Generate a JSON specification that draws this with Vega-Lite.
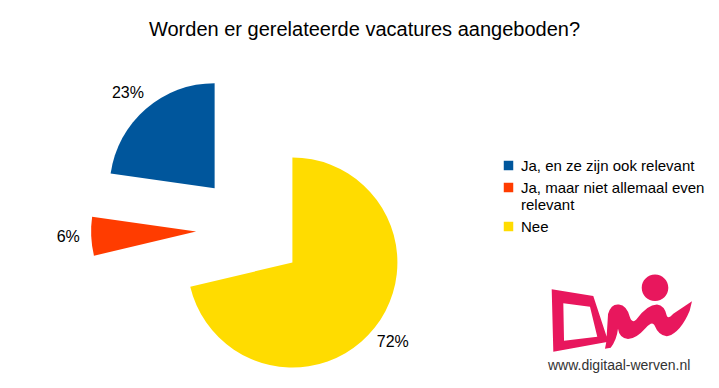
{
  "$schema": "https://vega.github.io/schema/vega-lite/v6.json",
  "autosize": "none",
  "width": 719,
  "height": 338,
  "padding": {"top": 50, "left": 0, "right": 0, "bottom": 0},
  "background": "white",
  "title": {
    "text": "Worden er gerelateerde vacatures aangeboden?",
    "fontSize": 20,
    "font": "Liberation Sans",
    "fontWeight": "normal",
    "color": "black",
    "anchor": "middle",
    "offset": 10,
    "dx": 5
  },
  "config": {
    "view": {"stroke": null},
    "legend": {
      "labelFont": "Liberation Sans",
      "labelFontSize": 15,
      "labelColor": "black",
      "labelLimit": 400,
      "padding": 0
    }
  },
  "data": {
    "values": [
      {"category": "Ja, en ze zijn ook relevant", "share": 0.23},
      {"category": "Ja, maar niet allemaal even relevant", "share": 0.06},
      {"category": "Nee", "share": 0.72}
    ]
  },
  "layer": [
    {
      "mark": {"type": "arc", "outerRadius": 105, "x": 292.4, "y": 212.5},
      "encoding": {
        "theta": {"field": "share", "type": "quantitative", "stack": true},
        "order": {"field": "category", "sort": "descending"},
        "color": {
          "field": "category",
          "type": "nominal",
          "scale": {
            "domain": ["Ja, en ze zijn ook relevant", "Ja, maar niet allemaal even relevant", "Nee"],
            "range": ["#00569c", "#ff3c00", "#ffdc00"]
          },
          "legend": {
            "orient": "none",
            "legendX": 501,
            "legendY": 108,
            "title": null,
            "symbolType": "square",
            "symbolSize": 90,
            "symbolStrokeWidth": 0,
            "symbolOpacity": 1,
            "labelOffset": 5,
            "rowPadding": 6,
            "labelExpr": "datum.label == 'Ja, maar niet allemaal even relevant' ? ['Ja, maar niet allemaal even', 'relevant'] : datum.label"
          }
        },
        "opacity": {"condition": {"test": "datum.category === 'Nee'", "value": 1}, "value": 0}
      }
    },
    {
      "mark": {"type": "arc", "outerRadius": 105, "x": 196.1, "y": 181.5},
      "encoding": {
        "theta": {"field": "share", "type": "quantitative", "stack": true},
        "order": {"field": "category", "sort": "descending"},
        "color": {"field": "category", "type": "nominal"},
        "opacity": {"condition": {"test": "datum.category === 'Ja, maar niet allemaal even relevant'", "value": 1}, "value": 0}
      }
    },
    {
      "mark": {"type": "arc", "outerRadius": 105, "x": 214.6, "y": 138.2},
      "encoding": {
        "theta": {"field": "share", "type": "quantitative", "stack": true},
        "order": {"field": "category", "sort": "descending"},
        "color": {"field": "category", "type": "nominal"},
        "opacity": {"condition": {"test": "datum.category === 'Ja, en ze zijn ook relevant'", "value": 1}, "value": 0}
      }
    },
    {
      "mark": {"type": "text", "radius": 128, "x": 292.4, "y": 212.5, "fontSize": 16, "font": "Liberation Sans", "color": "black"},
      "encoding": {
        "theta": {"field": "share", "type": "quantitative", "stack": true},
        "order": {"field": "category", "sort": "descending"},
        "detail": {"field": "category", "type": "nominal"},
        "text": {"field": "share", "type": "quantitative", "format": ".0%"},
        "opacity": {"condition": {"test": "datum.category === 'Nee'", "value": 1}, "value": 0}
      }
    },
    {
      "mark": {"type": "text", "radius": 128, "x": 196.1, "y": 181.5, "fontSize": 16, "font": "Liberation Sans", "color": "black"},
      "encoding": {
        "theta": {"field": "share", "type": "quantitative", "stack": true},
        "order": {"field": "category", "sort": "descending"},
        "detail": {"field": "category", "type": "nominal"},
        "text": {"field": "share", "type": "quantitative", "format": ".0%"},
        "opacity": {"condition": {"test": "datum.category === 'Ja, maar niet allemaal even relevant'", "value": 1}, "value": 0}
      }
    },
    {
      "mark": {"type": "text", "radius": 129, "x": 212.6, "y": 140.2, "fontSize": 16, "font": "Liberation Sans", "color": "black"},
      "encoding": {
        "theta": {"field": "share", "type": "quantitative", "stack": true},
        "order": {"field": "category", "sort": "descending"},
        "detail": {"field": "category", "type": "nominal"},
        "text": {"field": "share", "type": "quantitative", "format": ".0%"},
        "opacity": {"condition": {"test": "datum.category === 'Ja, en ze zijn ook relevant'", "value": 1}, "value": 0}
      }
    },
    {
      "data": {"values": [{"logo": "digitaal-werven"}]},
      "mark": {
        "type": "point",
        "filled": true,
        "fill": "#e8175d",
        "opacity": 1,
        "strokeWidth": 0,
        "size": 19600,
        "x": 621,
        "y": 263,
        "shape": "M -0.99 -0.339 L -0.396 -0.243 L -0.181 0.41 L -0.967 0.553 Z M -0.824 -0.139 L -0.814 0.396 L -0.339 0.339 L -0.443 -0.09 Z M 0.296 -0.36 A 0.19 0.19 0 1 0 0.676 -0.36 A 0.19 0.19 0 1 0 0.296 -0.36 Z M -0.21 0.414 L -0.185 0.014 Q -0.14 -0.134 -0.029 -0.12 Q 0.081 -0.106 0.124 0.051 Q 0.157 0.156 0.219 0.094 Q 0.376 -0.12 0.514 -0.12 Q 0.624 -0.106 0.653 0.037 Q 0.671 0.094 0.747 0.009 L 1.014 -0.167 L 0.981 -0.033 Q 0.853 0.273 0.671 0.33 Q 0.547 0.344 0.476 0.173 Q 0.443 0.111 0.353 0.216 Q 0.214 0.373 0.1 0.373 Q -0.024 0.359 -0.043 0.226 Q -0.061 0.386 -0.147 0.496 L -0.229 0.51 Z"
      },
      "encoding": {}
    },
    {
      "data": {"values": [{"site": "www.digitaal-werven.nl"}]},
      "mark": {"type": "text", "x": 548, "y": 320, "align": "left", "baseline": "alphabetic", "fontSize": 14, "font": "Liberation Sans", "color": "#333333"},
      "encoding": {"text": {"field": "site", "type": "nominal"}}
    }
  ]
}
